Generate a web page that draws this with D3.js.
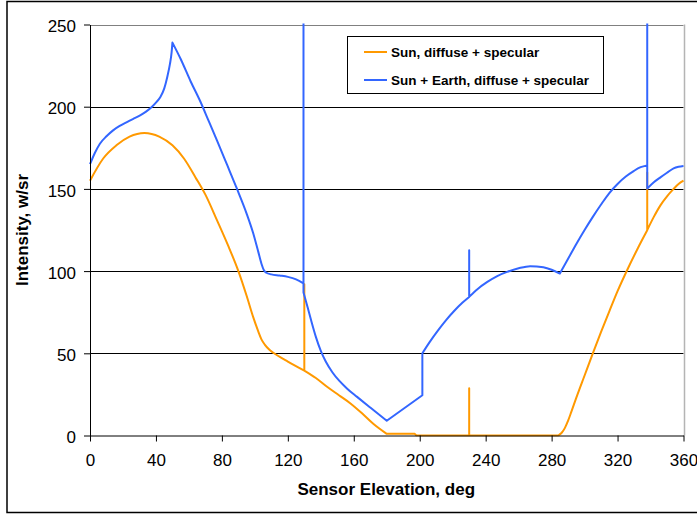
<!DOCTYPE html>
<html>
<head>
<meta charset="utf-8">
<script src="https://cdn.jsdelivr.net/npm/d3@7"></script>
<style>
  html, body { margin: 0; padding: 0; background: #fff; }
  svg { display: block; font-family: "Liberation Sans", Arial, sans-serif; }
</style>
</head>
<body>
<svg id="chart" width="697" height="514"></svg>
<script>
// ---- data ----
const xTicks = [0, 40, 80, 120, 160, 200, 240, 280, 320, 360];
const yTicks = [0, 50, 100, 150, 200, 250];
const seriesNames = ["Sun, diffuse + specular", "Sun + Earth, diffuse + specular"];

const sunX = [0, 8, 16, 24, 33, 42, 50, 57, 64, 70, 77, 84, 90, 95, 99, 102, 104, 106, 109, 114, 120, 130, 130, 130,
  137, 144, 151, 158, 165, 172, 180, 197, 198, 230, 230, 230, 284, 286, 288, 290, 292, 295, 300, 305, 310, 315, 320, 326, 332,
  338, 338, 338, 342, 346, 350, 354, 357, 360];
const sunY = [155, 168.5, 176.5, 181.8, 184, 181.8, 176.5, 168.5, 157, 146.5, 131, 115, 100, 85, 72, 63.5, 58.5, 55.3, 52, 48.5, 45, 39.5, 92, 39.5,
  35, 29.5, 24.5, 19.5, 13.5, 7, 1, 1, 0, 0, 28.8, 0, 0, 1.5, 4.5, 9, 14.5, 23, 36.5, 50, 63, 75.5, 87.8, 101, 113.3,
  124.8, 160, 125, 133, 140, 145.5, 150, 153, 155];
const sunKinks = [180, 197, 198, 284];

const earthX = [0, 3, 6, 10, 14, 18, 22.4, 26, 30.4, 34, 37.6, 40, 42.5, 45, 46.8, 48.5, 49.5, 50, 55, 61, 67, 71.7, 77, 83, 89,
  95, 99, 102, 104, 105.5, 107, 110, 115, 120, 125, 129.5, 129.5, 129.5, 132, 134, 137, 140, 143, 147, 151, 156,
  162, 170, 180, 201.6, 201.6, 206, 211, 216, 221, 226, 230, 230, 230, 235, 241, 247, 253, 260, 267, 275,
  280, 285, 290, 295, 300, 305, 310, 315, 320, 325, 330, 334, 338, 338, 338, 342, 346, 350, 354, 357, 360];
const earthY = [165, 172, 177.5, 182, 185.6, 188.3, 190.6, 192.5, 194.7, 197, 200, 202.5, 205.6, 211, 217.8, 226, 233, 239, 229, 215.5, 203, 192, 179.5, 165, 150.4,
  135, 123, 112, 104.5, 100.5, 99, 98, 97.3, 96.5, 95, 92.5, 300, 87, 78, 70.5, 60, 51.5, 45, 38.5, 33.5, 28.5,
  23.5, 17, 9, 24.5, 50, 56.8, 63.8, 70.2, 75.9, 80.9, 84.3, 112.7, 84.3, 89, 93.4, 97, 99.5, 101.7, 103, 102.3,
  100.8, 98.5, 107.5, 116.5, 125, 133, 140.5, 147.5, 153, 157.5, 161, 163.2, 164.3, 300, 150.2, 154, 157, 159.8, 162.5, 163.5, 164];
const earthKinks = [50, 180, 285];

const colors = ["#FF9900", "#3366FF"];

// ---- layout ----
const svg = d3.select("#chart");
const pL = 90, pR = 683.5, pT = 24.5, pB = 435.5;
const x = d3.scaleLinear().domain([0, 360]).range([pL, pR]);
const y = d3.scaleLinear().domain([0, 250]).range([pB, pT]);

// outer frame
svg.append("rect").attr("x", 7).attr("y", 1.5).attr("width", 720).attr("height", 511)
  .attr("fill", "#fff").attr("stroke", "#000").attr("stroke-width", 1.5);

// gridlines
svg.append("g").selectAll("line").data(yTicks.filter(d => d > 0 && d < 250)).join("line")
  .attr("x1", pL).attr("x2", pR).attr("y1", d => Math.round(y(d)) + 0.5).attr("y2", d => Math.round(y(d)) + 0.5)
  .attr("stroke", "#000").attr("stroke-width", 1);

// plot border top & right
svg.append("line").attr("x1", pL).attr("x2", pR).attr("y1", Math.round(y(250)) + 0.5).attr("y2", Math.round(y(250)) + 0.5)
  .attr("stroke", "#808080").attr("stroke-width", 1.2);
svg.append("line").attr("x1", Math.round(pR) + 0.5).attr("x2", Math.round(pR) + 0.5).attr("y1", y(250)).attr("y2", y(0))
  .attr("stroke", "#b4b4b4").attr("stroke-width", 1.5);

// clip
svg.append("clipPath").attr("id", "clip").append("rect")
  .attr("x", pL - 2).attr("y", pT - 1).attr("width", pR - pL + 4).attr("height", pB - pT + 2);

const mono = d3.line().x(d => x(d[0])).y(d => y(d[1])).curve(d3.curveMonotoneX);

function buildPath(xs, ys, kinks) {
  const data = xs.map((v, i) => [v, ys[i]]);
  const segs = [];
  let cur = [data[0]];
  for (let i = 1; i < data.length; i++) {
    const p = data[i], q = data[i - 1];
    if (p[0] === q[0]) { segs.push(cur); cur = [p]; }
    else if (kinks.includes(q[0]) && cur.length > 1) { segs.push(cur); cur = [q, p]; }
    else cur.push(p);
  }
  segs.push(cur);
  return segs.map((s, k) => {
    let d = s.length > 1 ? mono(s) : `M${x(s[0][0])},${y(s[0][1])}`;
    if (k > 0) d = "L" + d.slice(1);
    return d;
  }).join("");
}

const plot = svg.append("g").attr("clip-path", "url(#clip)");
plot.append("path").attr("d", buildPath(sunX, sunY, sunKinks)).attr("fill", "none")
  .attr("stroke", colors[0]).attr("stroke-width", 2).attr("stroke-linejoin", "round");
plot.append("path").attr("d", buildPath(earthX, earthY, earthKinks)).attr("fill", "none")
  .attr("stroke", colors[1]).attr("stroke-width", 2).attr("stroke-linejoin", "round");

// axes
const yAxis = d3.axisLeft(y).tickValues(yTicks).tickSize(6).tickSizeOuter(0).tickPadding(8);
const gy = svg.append("g").attr("transform", `translate(${pL},0)`).call(yAxis);
const xAxis = d3.axisBottom(x).tickValues(xTicks).tickSize(6).tickSizeOuter(0).tickPadding(12);
const gx = svg.append("g").attr("transform", `translate(0,${pB})`).call(xAxis);
[gx, gy].forEach(g => {
  g.selectAll("path.domain").attr("stroke", "#000").attr("stroke-width", 1);
  g.selectAll(".tick line").attr("stroke", "#000").attr("stroke-width", 1);
  g.selectAll(".tick text").attr("font-size", 17).attr("fill", "#000")
    .attr("font-family", "'Liberation Sans', Arial, sans-serif");
});
gy.selectAll(".tick text").attr("dy", "0.42em");

// axis titles
svg.append("text").attr("x", (pL + pR) / 2 - 0.5).attr("y", 495)
  .attr("text-anchor", "middle").attr("font-weight", "bold").attr("font-size", 17)
  .text("Sensor Elevation, deg");
svg.append("text").attr("transform", `translate(28,${(pT + pB) / 2}) rotate(-90)`)
  .attr("text-anchor", "middle").attr("font-weight", "bold").attr("font-size", 17)
  .text("Intensity, w/sr");

// legend
const lg = svg.append("g");
lg.append("rect").attr("x", 347.5).attr("y", 36.5).attr("width", 256).attr("height", 57)
  .attr("fill", "#fff").attr("stroke", "#000").attr("stroke-width", 1);
const ly = [52, 80];
seriesNames.forEach((name, i) => {
  lg.append("line").attr("x1", 364).attr("x2", 387).attr("y1", ly[i]).attr("y2", ly[i])
    .attr("stroke", colors[i]).attr("stroke-width", 2);
  lg.append("text").attr("x", 391).attr("y", ly[i] + 4.5).attr("font-size", 13.5).attr("font-weight", "bold")
    .text(name);
});
</script>
</body>
</html>
